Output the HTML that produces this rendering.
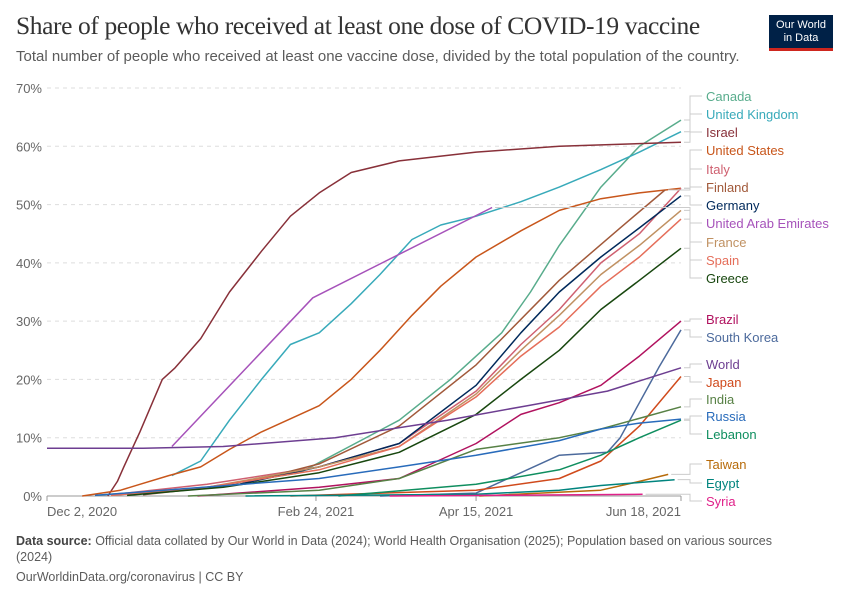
<!DOCTYPE html>
<html><head><meta charset="utf-8">
<style>
body{margin:0;background:#fff;font-family:"Liberation Sans",sans-serif;}
#wrap{position:relative;width:850px;height:600px;overflow:hidden;}
h1{position:absolute;left:16px;top:11px;margin:0;font-family:"Liberation Serif",serif;font-size:25.5px;font-weight:normal;color:#333;letter-spacing:-0.4px;}
.sub{position:absolute;left:16px;top:48px;font-size:15px;color:#5b5b5b;}
.logo{position:absolute;left:769px;top:15px;width:64px;height:36px;background:#002147;border-bottom:3px solid #ce261e;color:#fff;font-size:11px;line-height:13px;text-align:center;padding-top:4px;box-sizing:border-box;}
.foot{position:absolute;left:16px;font-size:12.5px;color:#5b5b5b;}
</style></head><body>
<div id="wrap">
<h1>Share of people who received at least one dose of COVID-19 vaccine</h1>
<div class="sub">Total number of people who received at least one vaccine dose, divided by the total population of the country.</div>
<div class="logo">Our World<br>in Data</div>
<svg id="chart" width="850" height="600" style="position:absolute;left:0;top:0"></svg>
<div class="foot" style="top:533px;width:790px;line-height:16px"><b style="color:#444">Data source:</b> Official data collated by Our World in Data (2024); World Health Organisation (2025); Population based on various sources (2024)</div>
<div class="foot" style="top:570px">OurWorldinData.org/coronavirus | CC BY</div>
</div>
<script>
const yTicks=[0,10,20,30,40,50,60,70];
const xTickDays=[0,84,134,198];
const xTickLabels=["Dec 2, 2020","Feb 24, 2021","Apr 15, 2021","Jun 18, 2021"];
const seriesNames=["Canada","United Kingdom","Israel","United States","Italy","Finland","Germany","United Arab Emirates","France","Spain","Greece","Brazil","South Korea","World","Japan","India","Russia","Lebanon","Taiwan","Egypt","Syria"];
const seriesColors=["#58ac8c","#38aaba","#883039","#c8561b","#cf6070","#a1593a","#00295b","#a652ba","#c09162","#e56e5a","#18470f","#b1125f","#4c6a9c","#6d3e91","#d04a1c","#578145","#286bbb","#0f8e5f","#b76b0a","#00847e","#e0218a"];
const seriesDays=[
[15,50,79,110,126,142,151,160,173,185,198],
[39,48,57,67,76,85,95,104,114,123,134,148,160,173,185,198],
[19,22,24,29,36,40,48,57,67,76,85,95,110,134,160,198],
[11,23,29,38,48,57,67,79,85,95,104,114,123,134,148,160,173,185,198],
[20,50,85,110,134,148,160,173,185,198],
[30,60,85,110,134,160,179,193],
[30,60,85,110,134,148,160,173,185,198],
[39,83,139],
[20,50,85,110,134,148,160,173,185,198],
[20,50,85,110,134,148,160,173,185,198],
[25,55,85,110,134,148,160,173,185,198],
[47,85,110,134,148,160,173,185,198],
[104,134,160,175,179,185,191,198],
[0,30,55,90,125,150,175,198],
[76,134,160,173,185,198],
[44,85,110,134,160,173,198],
[15,85,110,134,160,173,185,198],
[91,134,160,173,185,198],
[135,173,185,194],
[62,134,160,173,196],
[107,186]];
const seriesValues=[
[0.1,1.5,4,13,20,28,35,43,53,60,64.5],
[3.5,6,13,20,26,28,33,38,44,46.5,48,50.5,53,56,59,62.5],
[0,2.5,5,11,20,22,27,35,42,48,52,55.5,57.5,59,60,60.7],
[0,1,2,3.5,5,8,11,14,15.5,20,25,31,36,41,45.5,49,51,52,52.8],
[0.2,2,5,9,18,26,32,40,45,52.8],
[0.2,2,5.5,12,22.5,37,46,52.5],
[0.3,2,5,9,19,28,35,41,46,51.5],
[8.5,34,49.5],
[0.1,1.5,5,8.5,17.5,25,31,38,43,49],
[0.1,1.5,4.5,8.5,17,24,29,36,41,47.5],
[0.1,1.5,4,7.5,14,20,25,32,37,42.5],
[0,1.5,3,9,14,16,19,24,30],
[0,0.5,7,7.5,10,16,22,28.5],
[8.2,8.2,8.5,10,13,15.5,18,22],
[0,1,3,6,12,20.5],
[0,1,3,8,10,11.5,15.3],
[0.1,3,5,7,9.5,11.5,12.5,13.2],
[0,2,4.5,7,10,13],
[0,1,2.5,3.7],
[0,0.3,1,1.8,2.8],
[0,0.3]];
const labelY=[96,114,132,150,169,187,205,223,242,260,278,319,337,364,382,399,416,434,464,483,501];

const svg=document.getElementById('chart');
const NS='http://www.w3.org/2000/svg';
const X0=47,X1=681,Y0=496,Y70=88;
const xs=d=>X0+d*(X1-X0)/198;
const ys=v=>Y0-v*(Y0-Y70)/70;
function mk(t,a){const e=document.createElementNS(NS,t);for(const k in a)e.setAttribute(k,a[k]);svg.appendChild(e);return e;}
yTicks.forEach(v=>{
  const g=mk('line',{x1:X0,x2:X1,y1:ys(v),y2:ys(v),stroke:v?'#ddd':'#999','stroke-dasharray':v?'4,4':'none'});
  
  
  const t=mk('text',{x:42,y:ys(v)+5,'text-anchor':'end','font-size':13,fill:'#666','font-family':'Liberation Sans'});
  t.textContent=v+'%';
  
  
});
xTickDays.forEach((d,i)=>{
  const tk=mk('line',{x1:xs(d),x2:xs(d),y1:Y0,y2:Y0+5,stroke:'#999'});
  
  
  const anc=i==0?'start':(i==xTickDays.length-1?'end':'middle');
  const t=mk('text',{x:xs(d),y:Y0+20,'text-anchor':anc,'font-size':13,fill:'#666','font-family':'Liberation Sans'});
  t.textContent=xTickLabels[i];
  
  
});
seriesNames.forEach((n,i)=>{
  const d=seriesDays[i],v=seriesValues[i];
  const pts=d.map((dd,j)=>xs(dd).toFixed(1)+','+ys(v[j]).toFixed(1)).join(' ');
  const p=mk('polyline',{points:pts,fill:'none',stroke:seriesColors[i],'stroke-width':1.5,'stroke-linejoin':'round'});
  
  
  const ex=xs(d[d.length-1]),ey=ys(v[v.length-1]),ly=labelY[i];
  const c=mk('polyline',{points:`${ex+3},${ey} 690,${ey} 690,${ly} 702,${ly}`,fill:'none',stroke:'#ccc','stroke-width':1});
  
  
  const t=mk('text',{x:706,y:ly+5,'font-size':13,fill:seriesColors[i],'font-family':'Liberation Sans'});
  t.textContent=n;
  
  
});
</script>
</body></html>
